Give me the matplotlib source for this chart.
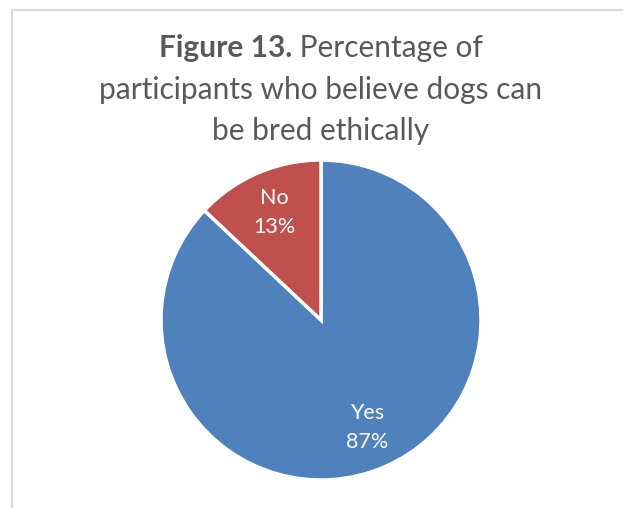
import matplotlib
matplotlib.use("Agg")
import matplotlib.pyplot as plt
from matplotlib.lines import Line2D
import numpy as np

CATEGORIES = ["Yes", "No"]
PERCENTS = [87, 13]
COLORS = ["#4F81BD", "#C0504D"]
TITLE_BOLD = "Figure 13."
TITLE_LINES = [" Percentage of", "participants who believe dogs can", "be bred ethically"]

W, H = 623, 508
FONT = "Lato"
TITLE_COLOR = "#595959"
BORDER = "#d9d9d9"

fig = plt.figure(figsize=(W / 100, H / 100), dpi=100)

# chart border (only top and left visible in the crop)
fig.add_artist(Line2D([11.5 / W, 1.0], [1 - 9.5 / H, 1 - 9.5 / H], color=BORDER, lw=1.5))
fig.add_artist(Line2D([11.5 / W, 11.5 / W], [0.0, 1 - 9.5 / H], color=BORDER, lw=1.5))

# pie centred at (321, 320) px, radius 160 px
cx, cy, r = 321, 320, 160
ax = fig.add_axes([(cx - r) / W, (H - cy - r) / H, 2 * r / W, 2 * r / H])
wedges, _ = ax.pie(PERCENTS, colors=COLORS, startangle=90, counterclock=False,
                   radius=1, wedgeprops=dict(edgecolor="white", linewidth=2.5))
ax.set_xlim(-1, 1)
ax.set_ylim(-1, 1)
ax.set_aspect("equal")
ax.axis("off")

# data labels inside slices
for w, cat, p in zip(wedges, CATEGORIES, PERCENTS):
    mid = np.deg2rad((w.theta1 + w.theta2) / 2)
    d = 0.73
    ax.text(d * np.cos(mid), d * np.sin(mid), f"{cat}\n{p}%", ha="center", va="center",
            color="white", fontsize=15.5, family=FONT, linespacing=1.55)

# title, first line has a bold lead-in
fs = 21.5
ys = [1 - 48 / H, 1 - 90 / H, 1 - 131 / H]
renderer = fig.canvas.get_renderer()
tb = fig.text(0, ys[0], TITLE_BOLD, fontsize=fs, family=FONT, weight="bold",
              color=TITLE_COLOR, va="center")
tr = fig.text(0, ys[0], TITLE_LINES[0], fontsize=fs, family=FONT,
              color=TITLE_COLOR, va="center")
wb = tb.get_window_extent(renderer).width / W
wr = tr.get_window_extent(renderer).width / W
x0 = (cx / W) - (wb + wr) / 2
tb.set_x(x0)
tr.set_x(x0 + wb)
for line, y in zip(TITLE_LINES[1:], ys[1:]):
    fig.text(cx / W, y, line, fontsize=fs, family=FONT, color=TITLE_COLOR,
             ha="center", va="center")

fig.savefig("out.png", dpi=100)
